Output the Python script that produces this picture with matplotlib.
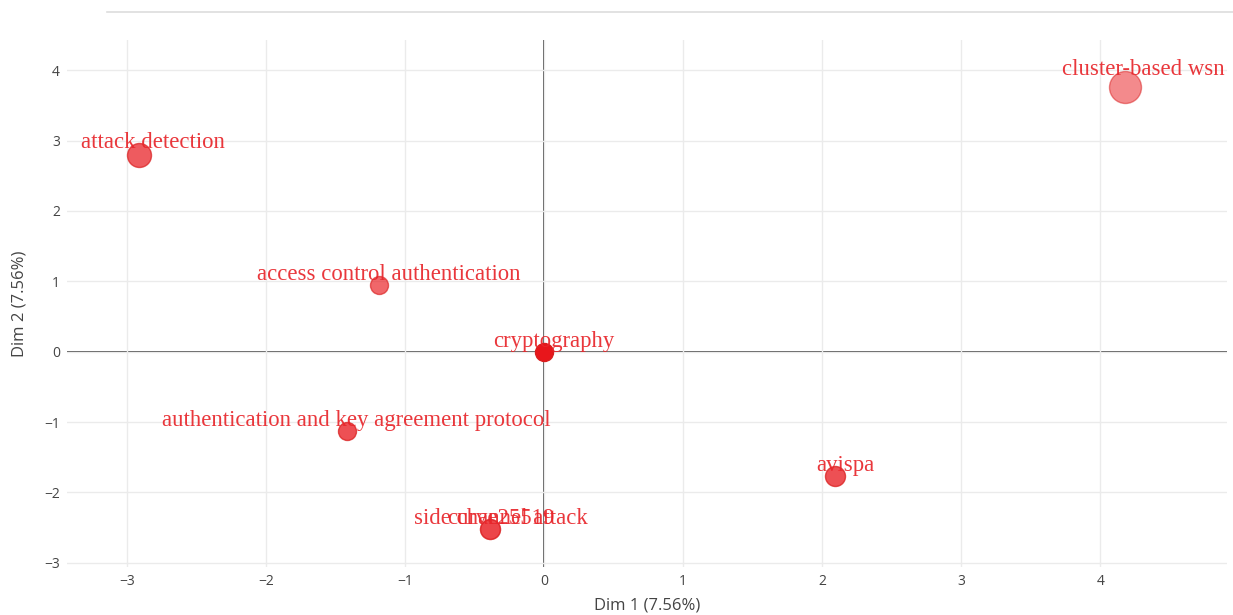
import matplotlib
matplotlib.use("Agg")
import matplotlib.pyplot as plt
from matplotlib.lines import Line2D

# ---- data ----
labels = ["cluster-based wsn", "attack detection", "access control authentication",
          "cryptography", "authentication and key agreement protocol", "avispa",
          "side channel attack", "curve25519"]
dim1 = [4.18, -2.91, -1.19, 0.0, -1.42, 2.09, -0.39, -0.39]
dim2 = [3.76, 2.79, 0.95, 0.0, -1.12, -1.77, -2.52, -2.52]
bubble = [16, 12, 9, 9, 9, 10, 10, 10]          # marker radius (px)
opacity = [0.5, 0.7, 0.65, 1.0, 0.75, 0.75, 0.55, 0.55]
xticks = [-3, -2, -1, 0, 1, 2, 3, 4]
yticks = [-3, -2, -1, 0, 1, 2, 3, 4]
xlabel = "Dim 1 (7.56%)"
ylabel = "Dim 2 (7.56%)"

DPI = 100
fig = plt.figure(figsize=(12.33, 6.15), dpi=DPI)
ax = fig.add_axes([67 / 1233, 1 - 567 / 615, (1227 - 67) / 1233, (567 - 40) / 615])

ax.set_xlim(-3.43, 4.91)
ax.set_ylim(-3.06, 4.43)

red = "#e8161b"
for x, y, r, a in zip(dim1, dim2, bubble, opacity):
    d_pt = 2 * r * 72 / DPI
    ax.scatter([x], [y], s=d_pt ** 2, color=red, alpha=a, edgecolors="#d91e1e",
               linewidths=1.0, zorder=3)

for lab, x, y, r in zip(labels, dim1, dim2, bubble):
    off = r * 1.1 * 72 / DPI
    ax.annotate(lab, (x, y), xytext=(off, off), textcoords="offset points",
                ha="center", va="center", fontsize=16.4, color="#e8262b",
                family=["Liberation Serif", "DejaVu Serif"], zorder=4, alpha=0.92)

ax.set_xticks(xticks)
ax.set_yticks(yticks)
ax.set_xticklabels([str(t).replace("-", "\u2212") for t in xticks])
ax.set_yticklabels([str(t).replace("-", "\u2212") for t in yticks])
for t in ax.get_xticklabels() + ax.get_yticklabels():
    t.set_family(["Open Sans", "DejaVu Sans"])
ax.grid(True, color="#ebebeb", linewidth=1.0, zorder=0)
ax.axhline(0, color="#444444", linewidth=1.3, zorder=1)
ax.axvline(0, color="#444444", linewidth=1.3, zorder=1)
for s in ax.spines.values():
    s.set_visible(False)
ax.tick_params(length=0, labelsize=10, labelcolor="#444444", pad=5)
ax.set_xlabel(xlabel, fontsize=12, color="#444444", labelpad=6,
              family=["Open Sans", "DejaVu Sans"])
ax.set_ylabel(ylabel, fontsize=12, color="#444444", labelpad=12,
              family=["Open Sans", "DejaVu Sans"])

fig.add_artist(Line2D([107 / 1233, 1.0], [1 - 12 / 615, 1 - 12 / 615],
                      color="#dddddd", linewidth=1.2, transform=fig.transFigure))

fig.savefig("out.png", dpi=DPI)
